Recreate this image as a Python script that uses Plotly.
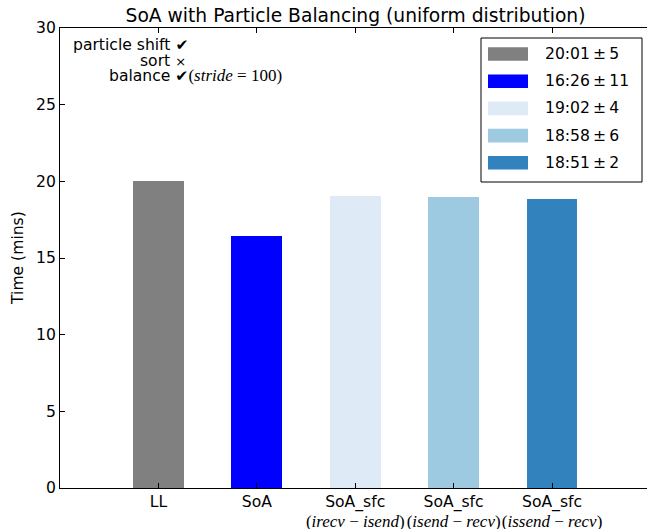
import plotly.graph_objects as go

# ---- data ----
categories = ["LL", "SoA", "SoA_sfc", "SoA_sfc", "SoA_sfc"]
subtitles = ["", "", "(<i>irecv</i> − <i>isend</i>)", "(<i>isend</i> − <i>recv</i>)", "(<i>issend</i> − <i>recv</i>)"]
times_min = [20.02, 16.43, 19.03, 18.97, 18.85]
legend_times = ["20:01", "16:26", "19:02", "18:58", "18:51"]
legend_std = ["5", "11", "4", "6", "2"]
bar_colors = ["#808080", "#0000ff", "#deebf7", "#9ecae1", "#3182bd"]
y_ticks = [0, 5, 10, 15, 20, 25, 30]

# ---- layout geometry (pixels) ----
W, H = 647, 529
L, R, T, B = 60, 647, 28, 488
PW, PH = R - L, B - T


def px(x):
    return (x - L) / PW


def py(y):
    return (B - y) / PH


SANS = "DejaVu Sans"
SERIF = "Liberation Serif"
FS = 15.6

positions = list(range(len(categories)))
ticktext = []
for c, s in zip(categories, subtitles):
    if s:
        ticktext.append(f"{c}<br><span style='font-family:{SERIF};font-size:17px'>{s}</span>")
    else:
        ticktext.append(c)

fig = go.Figure()
fig.add_trace(go.Bar(
    x=positions, y=times_min, width=0.515,
    marker=dict(color=bar_colors, line=dict(width=0)),
    showlegend=False,
))

shapes = []
annotations = []

# legend (manual, matplotlib-like)
shapes.append(dict(type="rect", xref="paper", yref="paper",
                   x0=px(481), x1=px(642), y0=py(182), y1=py(38),
                   line=dict(color="black", width=1), fillcolor="white", layer="above"))
row_y0 = 54.0
row_dy = 27.2
for i, (t, s, c) in enumerate(zip(legend_times, legend_std, bar_colors)):
    cy = row_y0 + i * row_dy
    shapes.append(dict(type="rect", xref="paper", yref="paper",
                       x0=px(488), x1=px(528), y0=py(cy + 6.8), y1=py(cy - 6.8),
                       line=dict(width=0), fillcolor=c, layer="above"))
    annotations.append(dict(xref="paper", yref="paper", x=px(543), y=py(cy),
                            xanchor="left", yanchor="middle", showarrow=False,
                            text=f"{t}\u2009±\u2009{s}",
                            font=dict(family=SANS, size=FS, color="black")))

# top-left note
annotations.append(dict(xref="paper", yref="paper", x=px(71), y=py(45),
                        xanchor="left", yanchor="middle", showarrow=False,
                        text="particle shift ✔", font=dict(family=SANS, size=FS, color="black")))
annotations.append(dict(xref="paper", yref="paper", x=px(138), y=py(61),
                        xanchor="left", yanchor="middle", showarrow=False,
                        text="sort <span style='font-size:13px'>×</span>",
                        font=dict(family=SANS, size=FS, color="black")))
annotations.append(dict(xref="paper", yref="paper", x=px(107), y=py(76),
                        xanchor="left", yanchor="middle", showarrow=False,
                        text=f"balance ✔<span style='font-family:{SERIF};font-size:17px'>(<i>stride</i> = 100)</span>",
                        font=dict(family=SANS, size=FS, color="black")))

# y axis title
annotations.append(dict(xref="paper", yref="paper", x=px(18), y=0.5,
                        xanchor="center", yanchor="middle", showarrow=False, textangle=-90,
                        text="Time (mins)", font=dict(family=SANS, size=FS, color="black")))

fig.update_layout(
    width=W, height=H,
    margin=dict(l=L, r=W - R, t=T, b=H - B),
    paper_bgcolor="white", plot_bgcolor="white",
    title=dict(text="SoA with Particle Balancing (uniform distribution)",
               x=(355.5 - L) / PW, xref="paper", xanchor="center",
               y=1 - 15 / H, yref="container", yanchor="middle",
               font=dict(family=SANS, size=18.7, color="black")),
    font=dict(family=SANS, size=FS, color="black"),
    shapes=shapes, annotations=annotations,
    bargap=0,
)
fig.update_xaxes(
    range=[-1, 4.965], tickmode="array", tickvals=positions, ticktext=ticktext,
    tickangle=0, ticklabelstandoff=-1,
    showline=True, linecolor="black", linewidth=1, mirror="ticks",
    ticks="inside", ticklen=5, tickcolor="black", tickwidth=1,
    showgrid=False, zeroline=False, automargin=False,
    tickfont=dict(family=SANS, size=FS, color="black"),
)
fig.update_yaxes(
    range=[0, 30], tickmode="array", tickvals=y_ticks,
    showline=True, linecolor="black", linewidth=1, mirror=False,
    ticks="inside", ticklen=5, tickcolor="black", tickwidth=1,
    showgrid=False, zeroline=False, automargin=False,
    tickfont=dict(family=SANS, size=FS, color="black"),
)

fig.write_html(
    "out.html",
    config={"displayModeBar": False},
    post_script="document.body.style.margin='0px';document.body.style.overflow='hidden';",
)
